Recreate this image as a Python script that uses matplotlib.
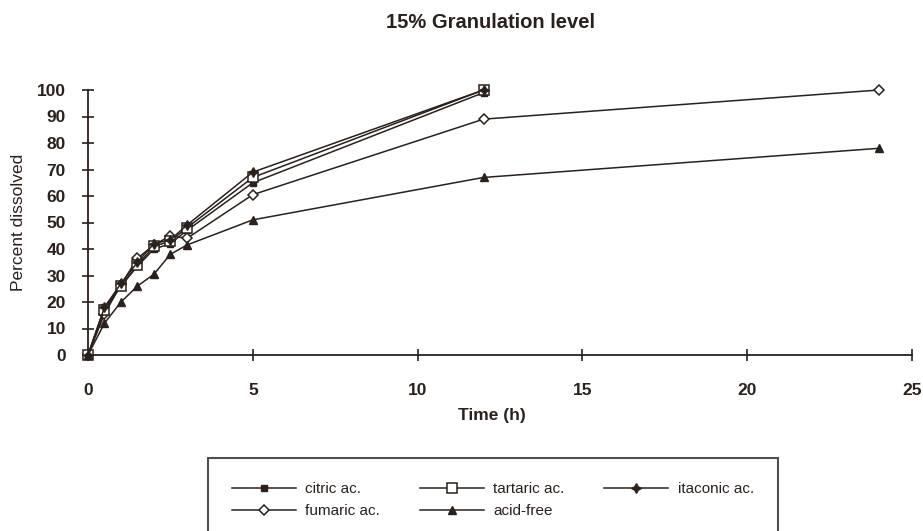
import matplotlib
matplotlib.use("Agg")
import matplotlib.pyplot as plt

# Dissolution profiles, 15% granulation level
time_h = [0, 0.5, 1, 1.5, 2, 2.5, 3, 5, 12, 24]
citric = [0, 18, 26, 33.5, 40, 42, 47, 65, 99]
tartaric = [0, 17, 26, 34, 41, 43, 48, 67, 100]
itaconic = [0, 18, 27, 35, 42, 43.5, 49, 69, 100]
fumaric = [0, 15.5, 26.5, 36.5, 41.5, 45, 44, 60.5, 89, 100]
acid_free = [0, 12, 20, 26, 30.5, 38, 41.5, 51, 67, 78]

x_ticks = [0, 5, 10, 15, 20, 25]
y_ticks = list(range(0, 101, 10))

INK = "#2a201c"
plt.rcParams["font.family"] = ["Liberation Sans", "DejaVu Sans"]

fig = plt.figure(figsize=(9.23, 5.31), dpi=100, facecolor="white")
ax = fig.add_axes([88 / 923, 1 - 355 / 531, (912 - 88) / 923, (355 - 90) / 531])
ax.set_facecolor("white")

common = dict(color=INK, lw=1.1, clip_on=False, zorder=3)
series = [
    ("citric ac.", citric, dict(marker="s", ms=5, mfc=INK, mec=INK)),
    ("fumaric ac.", fumaric, dict(marker="D", ms=5.5, mfc="white", mec=INK, mew=1.1)),
    ("tartaric ac.", tartaric, dict(marker="s", ms=7, mfc="white", mec=INK, mew=1.1)),
    ("acid-free", acid_free, dict(marker="^", ms=6, mfc=INK, mec=INK)),
    ("itaconic ac.", itaconic, dict(marker=(4, 1, 0), ms=7, mfc=INK, mec=INK)),
]
handles = []
for label, vals, style in series:
    h, = ax.plot(time_h[:len(vals)], vals, label=label, **common, **style)
    handles.append(h)

ax.set_xlim(0, 25)
ax.set_ylim(0, 100)
ax.set_xticks(x_ticks)
ax.set_yticks(y_ticks)
for side in ("top", "right"):
    ax.spines[side].set_visible(False)
for side in ("left", "bottom"):
    ax.spines[side].set_color(INK)
    ax.spines[side].set_linewidth(1.3)
ax.tick_params(axis="both", direction="inout", length=8, width=1.2, color=INK,
               labelcolor=INK, labelsize=12.5)
ax.tick_params(axis="y", pad=12)
ax.tick_params(axis="x", pad=16)
for lbl in ax.get_xticklabels() + ax.get_yticklabels():
    lbl.set_fontweight("bold")

ax.set_ylabel("Percent dissolved", fontsize=12.5, color=INK, labelpad=8)
ax.set_xlabel("Time (h)", fontsize=12.5, fontweight="bold", color=INK, labelpad=8)
ax.xaxis.set_label_coords(0.49, -0.2)

fig.text(490 / 923, 1 - 23 / 531, "15% Granulation level", ha="center", va="center",
         fontsize=14.5, fontweight="bold", color=INK)

leg = fig.legend(handles=handles, ncol=3, loc="upper left",
                 bbox_to_anchor=(200 / 923, 1 - 450 / 531),
                 frameon=True, fancybox=False, fontsize=11, handlelength=4.2,
                 columnspacing=2.6, borderpad=1.6, labelspacing=0.55,
                 handletextpad=0.6, labelcolor=INK)
leg.get_frame().set_edgecolor(INK)
leg.get_frame().set_linewidth(1.5)

fig.savefig("out.png", dpi=100, facecolor="white")
